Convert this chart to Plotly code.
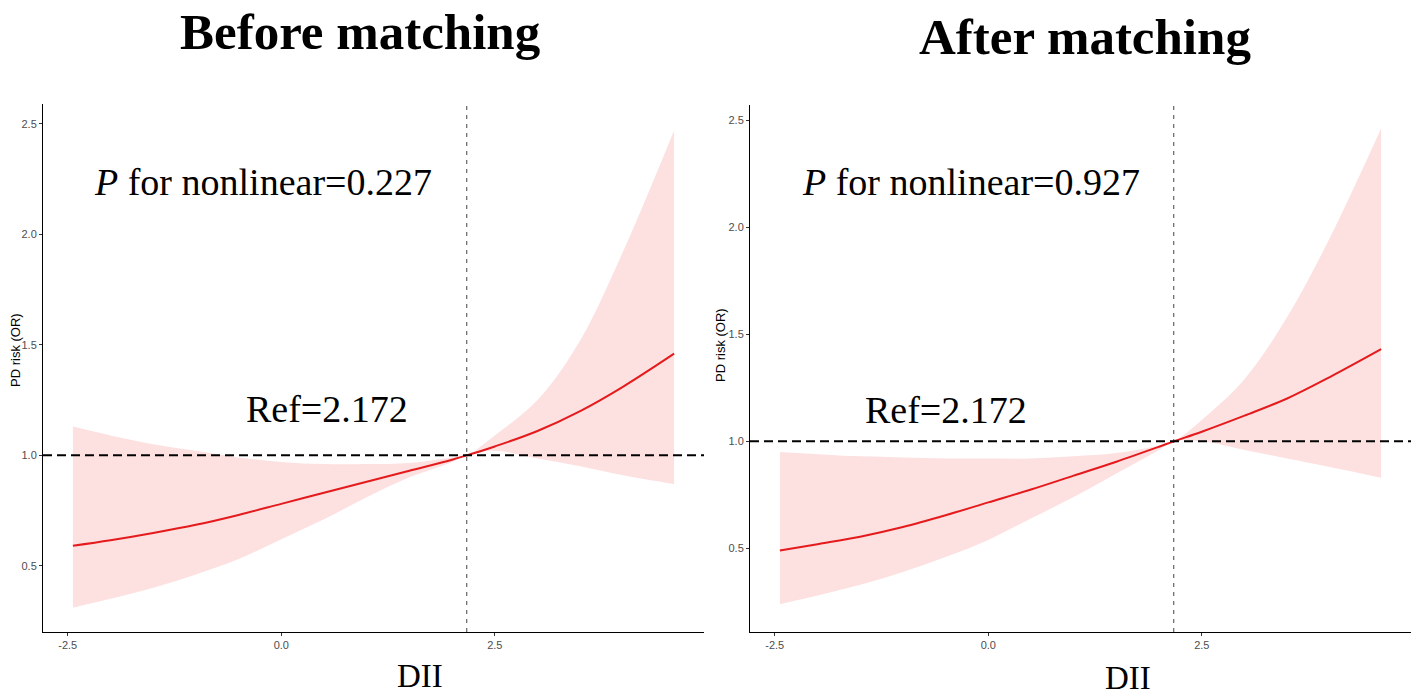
import plotly.graph_objs as go

# DII grid
dii = [-2.44, -2.0, -1.5, -1.0, -0.5, 0.0, 0.5, 1.0, 1.5, 2.0, 2.172, 2.5, 3.0, 3.5, 4.0, 4.6]

# Before matching
or_before = [0.59, 0.615, 0.648, 0.685, 0.73, 0.78, 0.83, 0.88, 0.93, 0.98, 1.0, 1.04, 1.11, 1.20, 1.31, 1.46]
lo_before = [0.31, 0.35, 0.40, 0.46, 0.53, 0.62, 0.71, 0.81, 0.90, 0.97, 1.0, 1.02, 0.985, 0.95, 0.91, 0.87]
hi_before = [1.13, 1.09, 1.05, 1.02, 0.99, 0.97, 0.96, 0.96, 0.965, 0.99, 1.0, 1.09, 1.25, 1.52, 1.92, 2.47]

# After matching
or_after = [0.49, 0.52, 0.555, 0.60, 0.655, 0.715, 0.775, 0.84, 0.905, 0.975, 1.0, 1.045, 1.12, 1.20, 1.30, 1.43]
lo_after = [0.24, 0.28, 0.33, 0.39, 0.46, 0.54, 0.64, 0.74, 0.85, 0.96, 1.0, 1.0, 0.96, 0.92, 0.88, 0.83]
hi_after = [0.95, 0.94, 0.93, 0.925, 0.92, 0.92, 0.92, 0.93, 0.945, 0.98, 1.0, 1.10, 1.29, 1.58, 1.95, 2.46]

ref_value = 2.172
panel_titles = ['Before matching', 'After matching']
p_texts = ['<i>P</i> for nonlinear=0.227', '<i>P</i> for nonlinear=0.927']

W, H = 1418, 698


def px(v):
    return min(max(v / W, 0), 1)


def py(v):
    return min(max(1 - v / H, 0), 1)


serif = 'Liberation Serif, Times New Roman, serif'
sans = 'Liberation Sans, Arial, sans-serif'
band_col = 'rgb(253,224,224)'
line_col = 'rgb(228,26,28)'

panels = [
    ('x', 'y', lo_before, hi_before, or_before),
    ('x2', 'y2', lo_after, hi_after, or_after),
]

data = []
for xa, ya, lo, hi, mid in panels:
    data.append(go.Scatter(x=dii, y=lo, xaxis=xa, yaxis=ya, mode='lines',
                           line=dict(width=0, shape='spline', color=band_col),
                           showlegend=False, hoverinfo='skip'))
    data.append(go.Scatter(x=dii, y=hi, xaxis=xa, yaxis=ya, mode='lines',
                           fill='tonexty', fillcolor=band_col,
                           line=dict(width=0, shape='spline', color=band_col),
                           showlegend=False, hoverinfo='skip'))
    data.append(go.Scatter(x=dii, y=mid, xaxis=xa, yaxis=ya, mode='lines',
                           line=dict(width=2, shape='spline', color=line_col),
                           showlegend=False))

xax = dict(range=[-2.79, 4.95], tickvals=[-2.5, 0, 2.5], ticktext=['-2.5', '0.0', '2.5'],
           showline=True, linecolor='black', linewidth=1, ticks='outside', ticklen=3,
           tickcolor='#333', showgrid=False, zeroline=False,
           tickfont=dict(family=sans, size=11, color='#4d4d4d'))
yax = dict(tickvals=[0.5, 1.0, 1.5, 2.0, 2.5], ticktext=['0.5', '1.0', '1.5', '2.0', '2.5'],
           showline=True, linecolor='black', linewidth=1, ticks='outside', ticklen=3,
           tickcolor='#333', showgrid=False, zeroline=False,
           tickfont=dict(family=sans, size=11, color='#4d4d4d'))

shapes = []
for xr, yr in [('x', 'y'), ('x2', 'y2')]:
    shapes.append(dict(type='line', xref=xr, yref=yr + ' domain', x0=ref_value, x1=ref_value,
                       y0=0, y1=1, line=dict(color='#444', width=1, dash='4px,5px')))
    shapes.append(dict(type='line', xref=xr + ' domain', yref=yr, x0=0, x1=1, y0=1, y1=1,
                       line=dict(color='black', width=2, dash='9px,5px')))


def note(text, x, y, size, family=serif, **kw):
    return dict(text=text, x=x, y=y, xref='paper', yref='paper', showarrow=False,
                xanchor='center', yanchor='middle',
                font=dict(family=family, size=size, color='black'), **kw)


annotations = [
    note('<b>' + panel_titles[0] + '</b>', px(360), py(32), 51),
    note('<b>' + panel_titles[1] + '</b>', px(1085), py(37), 51),
    note('DII', px(420), py(676), 33),
    note('DII', px(1128), py(678), 33),
    note('PD risk (OR)', px(15), py(350), 13, family=sans, textangle=-90),
    note('PD risk (OR)', px(720), py(345), 13, family=sans, textangle=-90),
    dict(text=p_texts[0], x=-0.21, y=2.235, xref='x', yref='y', showarrow=False,
         font=dict(family=serif, size=38, color='black')),
    dict(text=p_texts[1], x=-0.2, y=2.21, xref='x2', yref='y2', showarrow=False,
         font=dict(family=serif, size=38, color='black')),
    dict(text='Ref=' + str(ref_value), x=0.53, y=1.21, xref='x', yref='y', showarrow=False,
         font=dict(family=serif, size=38, color='black')),
    dict(text='Ref=' + str(ref_value), x=-0.49, y=1.145, xref='x2', yref='y2', showarrow=False,
         font=dict(family=serif, size=38, color='black')),
]

layout = go.Layout(
    width=W, height=H,
    margin=dict(l=0, r=0, t=0, b=0),
    paper_bgcolor='white', plot_bgcolor='white',
    xaxis=dict(xax, domain=[px(43), px(704)], anchor='y'),
    yaxis=dict(yax, domain=[py(632), py(104)], range=[0.2, 2.59], anchor='x'),
    xaxis2=dict(xax, domain=[px(750), px(1411)], anchor='y2'),
    yaxis2=dict(yax, domain=[py(632), py(105)], range=[0.11, 2.57], anchor='x2'),
    shapes=shapes,
    annotations=annotations,
)

fig = go.Figure(data=data, layout=layout)
# drop the default 8px page margin so the figure fills the window
fig.write_html('out.html', config={'displayModeBar': False},
               post_script="document.body.style.margin='0px';")
